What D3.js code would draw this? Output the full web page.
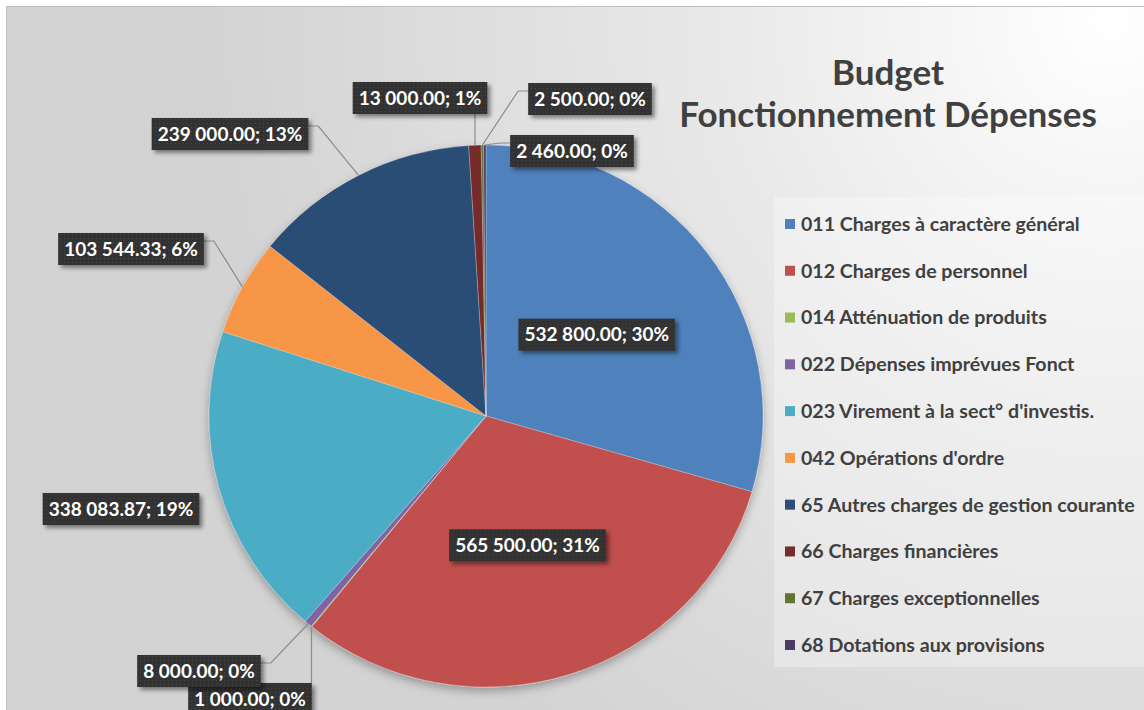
<!DOCTYPE html>
<html>
<head>
<meta charset="utf-8">
<script src="https://cdn.jsdelivr.net/npm/d3@7"></script>
<style>
body { margin: 0; background: #fff; }
text { font-family: Lato, "Open Sans", sans-serif; font-weight: bold; }
</style>
</head>
<body>
<div id="vis"></div>
<script>
// the data
var categories = [
  "011 Charges à caractère général",
  "012 Charges de personnel",
  "014 Atténuation de produits",
  "022 Dépenses imprévues Fonct",
  "023 Virement à la sect° d'investis.",
  "042 Opérations d'ordre",
  "65 Autres charges de gestion courante",
  "66 Charges financières",
  "67 Charges exceptionnelles",
  "68 Dotations aux provisions"
];
var values = [532800, 565500, 1000, 8000, 338083.87, 103544.33, 239000, 13000, 2500, 2460];
var sliceColors = ["#4F81BD", "#C0504D", "#9BBB59", "#8064A2", "#4BACC6",
                   "#F79646", "#2C4D75", "#772C2A", "#5F7530", "#4D3B62"];
var titleLines = ["Budget", "Fonctionnement Dépenses"];

// label box centres, null = inside the slice
var labelPos = [null, null, [250, 699], [199, 671], [121, 509],
                [131, 249], [230, 134], [420, 98], [590, 99], [572, 151]];
// which outside labels get a leader line
var leader = [false, false, true, true, false, true, true, true, true, true];

var w = 1144;
var h = 710;
var cx = 486, cy = 416;
var r = 277;
var squash = 271 / 277;

var svg = d3.select("#vis")
.append("svg")
.attr("width", w)
.attr("height", h);

var defs = svg.append("defs");

var bg = defs.append("radialGradient")
.attr("id", "bg")
.attr("gradientUnits", "userSpaceOnUse")
.attr("cx", 1110).attr("cy", 20).attr("r", 900);
bg.append("stop").attr("offset", 0).attr("stop-color", "#ffffff");
bg.append("stop").attr("offset", 0.45).attr("stop-color", "#e8e8e8");
bg.append("stop").attr("offset", 1).attr("stop-color", "#d3d3d3");

var dots = defs.append("pattern")
.attr("id", "dots")
.attr("patternUnits", "userSpaceOnUse")
.attr("width", 4).attr("height", 4);
dots.append("rect").attr("width", 4).attr("height", 4).attr("fill", "#303030");
dots.append("rect").attr("x", 1).attr("y", 1).attr("width", 1).attr("height", 1).attr("fill", "#4a4a4a");

var pieShadow = defs.append("filter").attr("id", "pieShadow")
.attr("x", "-10%").attr("y", "-10%").attr("width", "120%").attr("height", "125%");
pieShadow.append("feDropShadow")
.attr("dx", 0).attr("dy", 4).attr("stdDeviation", 5)
.attr("flood-color", "#000").attr("flood-opacity", 0.3);

var boxShadow = defs.append("filter").attr("id", "boxShadow")
.attr("x", "-10%").attr("y", "-30%").attr("width", "130%").attr("height", "180%");
boxShadow.append("feDropShadow")
.attr("dx", 3).attr("dy", 3).attr("stdDeviation", 2)
.attr("flood-color", "#000").attr("flood-opacity", 0.45);

//chart area
svg.append("rect")
.attr("x", 6.5).attr("y", 6.5)
.attr("width", w).attr("height", h)
.attr("fill", "url(#bg)")
.attr("stroke", "#c0c0c0");

//title
svg.append("g")
.selectAll("text")
.data(titleLines)
.enter()
.append("text")
.attr("x", 888)
.attr("y", (d, i) => 85 + i * 42)
.attr("text-anchor", "middle")
.attr("font-size", 35)
.attr("fill", "#404040")
.text(d => d);

//legend
svg.append("rect")
.attr("x", 774).attr("y", 197)
.attr("width", w - 774).attr("height", 470)
.attr("fill", "#ffffff").attr("fill-opacity", 0.3);

var ly = d3.scalePoint()
.domain(categories)
.range([224, 645]);

var legend = svg.append("g")
.selectAll("g")
.data(categories)
.enter()
.append("g")
.attr("transform", d => `translate(785, ${ly(d)})`);

legend.append("rect")
.attr("y", -5)
.attr("width", 10).attr("height", 10)
.attr("fill", (d, i) => sliceColors[i]);

legend.append("text")
.attr("x", 16)
.attr("dy", "0.35em")
.attr("font-size", 19.6)
.attr("fill", "#404040")
.text(d => d);

//pie
var pie = d3.pie().sort(null).value(d => d);
var arcs = pie(values);
var total = d3.sum(values);

var arc = d3.arc().innerRadius(0).outerRadius(r);
var edge = d3.arc().innerRadius(r).outerRadius(r);
var mid = d3.arc().innerRadius(r * 0.5).outerRadius(r * 0.5);

var main = svg.append("g")
.attr("transform", `translate(${cx}, ${cy}) scale(1, ${squash})`)
.attr("filter", "url(#pieShadow)");

main.selectAll("path")
.data(arcs)
.enter()
.append("path")
.attr("d", arc)
.attr("fill", (d, i) => sliceColors[i])
.attr("stroke", "#ffffff")
.attr("stroke-opacity", 0.35)
.attr("stroke-width", 0.7);

//labels
var fmt = d3.formatLocale({decimal: ".", thousands: " ", grouping: [3]}).format(",.2f");
var labelText = (v) => fmt(v) + "; " + Math.round(v / total * 100) + "%";

var labels = arcs.map((a, i) => {
  var c;
  if (labelPos[i]) c = labelPos[i];
  else {
    var m = mid.centroid(a);
    c = [cx + m[0], cy + m[1] * squash];
  }
  var e = edge.centroid(a);
  return {text: labelText(values[i]), x: c[0], y: c[1], ex: cx + e[0], ey: cy + e[1] * squash, line: leader[i]};
});

var lines = svg.append("g");
var boxes = svg.append("g");

var lab = boxes.selectAll("g")
.data(labels)
.enter()
.append("g")
.attr("transform", d => `translate(${d.x}, ${d.y})`);

var boxRect = lab.append("rect")
.attr("fill", "url(#dots)")
.attr("filter", "url(#boxShadow)");

lab.append("text")
.attr("text-anchor", "middle")
.attr("dy", "0.36em")
.attr("font-size", 19)
.attr("fill", "#ffffff")
.text(d => d.text);

lab.each(function(d) {
  d.bw = d3.select(this).select("text").node().getComputedTextLength() + 12;
  d.bh = 32;
});

boxRect
.attr("x", d => -d.bw / 2)
.attr("y", d => -d.bh / 2)
.attr("width", d => d.bw)
.attr("height", d => d.bh);

//leader lines
labels.forEach(d => {
  if (!d.line) return;
  var left = d.x - d.bw / 2, right = d.x + d.bw / 2;
  var top = d.y - d.bh / 2, bottom = d.y + d.bh / 2;
  var pts;
  if (d.ex >= left && d.ex <= right) {
    pts = [[d.ex, d.ey > d.y ? bottom : top], [d.ex, d.ey]];
  } else {
    var sx = d.ex > right ? right : left;
    var dir = d.ex > right ? 1 : -1;
    var ly0 = d.y - 8;
    pts = [[sx, ly0], [sx + dir * 10, ly0], [d.ex, d.ey]];
  }
  lines.append("path")
  .attr("d", d3.line()(pts))
  .attr("fill", "none")
  .attr("stroke", "#8c8c8c")
  .attr("stroke-width", 1.2);
});
</script>
</body>
</html>
